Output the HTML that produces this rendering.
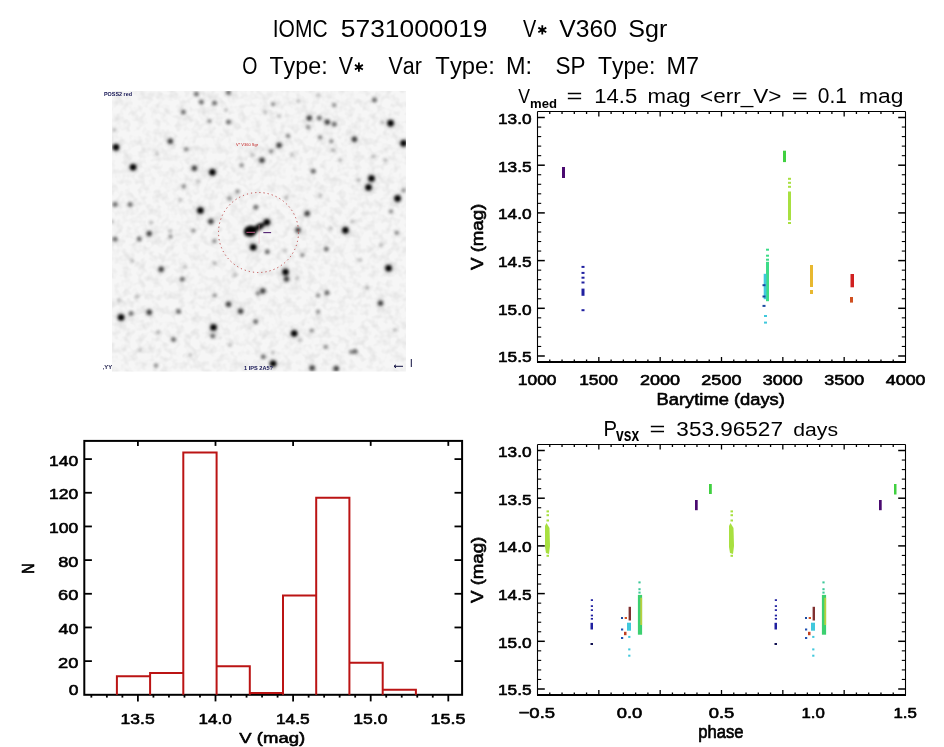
<!DOCTYPE html><html><head><meta charset="utf-8"><style>html,body{margin:0;padding:0;background:#fff;overflow:hidden;}svg{display:block;will-change:transform;}text{font-family:"Liberation Sans",sans-serif;font-kerning:none;white-space:pre;}</style></head><body>
<svg width="944" height="747" viewBox="0 0 944 747">
<rect width="944" height="747" fill="#fff"/>
<text font-size="100" fill="#000" transform="matrix(0.21004 0 0 0.23547 272.76 36.80)">IOMC</text>
<text font-size="100" fill="#000" transform="matrix(0.26379 0 0 0.23547 340.84 36.80)">5731000019</text>
<text font-size="100" fill="#000" transform="matrix(0.19903 0 0 0.23692 522.91 36.70)">V</text>
<path d="M542.30 25.30L542.30 34.50M538.32 27.60L546.28 32.20M546.28 27.60L538.32 32.20" stroke="#000" stroke-width="1.8" fill="none"/>
<text font-size="100" fill="#000" transform="matrix(0.24695 0 0 0.23547 559.29 36.80)">V360</text>
<text font-size="100" fill="#000" transform="matrix(0.25098 0 0 0.23547 628.26 36.80)">Sgr</text>
<text font-size="100" fill="#000" transform="matrix(0.19484 0 0 0.23983 242.28 74.20)">O</text>
<text font-size="100" fill="#000" transform="matrix(0.23291 0 0 0.23983 269.38 74.20)">Type:</text>
<text font-size="100" fill="#000" transform="matrix(0.21422 0 0 0.23983 338.71 74.20)">V</text>
<path d="M358.90 62.60L358.90 71.80M354.92 64.90L362.88 69.50M362.88 64.90L354.92 69.50" stroke="#000" stroke-width="1.8" fill="none"/>
<text font-size="100" fill="#000" transform="matrix(0.21496 0 0 0.23983 388.41 74.20)">Var</text>
<text font-size="100" fill="#000" transform="matrix(0.23793 0 0 0.23983 435.37 74.20)">Type:</text>
<text font-size="100" fill="#000" transform="matrix(0.23467 0 0 0.23983 506.07 74.20)">M:</text>
<text font-size="100" fill="#000" transform="matrix(0.22495 0 0 0.23983 555.38 74.20)">SP</text>
<text font-size="100" fill="#000" transform="matrix(0.22956 0 0 0.23983 597.98 74.20)">Type:</text>
<text font-size="100" fill="#000" transform="matrix(0.23392 0 0 0.23983 666.48 74.20)">M7</text>
<defs><filter id="bl" x="-50%" y="-50%" width="200%" height="200%"><feGaussianBlur stdDeviation="1.55"/></filter><filter id="bh" x="-50%" y="-50%" width="200%" height="200%"><feGaussianBlur stdDeviation="2.6"/></filter><clipPath id="imgclip"><rect x="112" y="91" width="294" height="280.5"/></clipPath></defs>
<filter id="noise" x="0" y="0" width="100%" height="100%"><feTurbulence type="fractalNoise" baseFrequency="0.13" numOctaves="2" seed="7" result="t"/><feColorMatrix type="matrix" values="0 0 0 0 0  0 0 0 0 0  0 0 0 0 0  -0.9 0 0 0 0.55"/><feComposite operator="in" in2="SourceGraphic"/></filter>
<rect x="112" y="91" width="294" height="280.5" fill="#f6f6f6"/>
<rect x="112" y="91" width="294" height="280.5" fill="#000" filter="url(#noise)" opacity="0.16"/>
<g clip-path="url(#imgclip)"><g filter="url(#bh)">
<circle cx="116" cy="147.2" r="4.2" fill="#000" fill-opacity="0.18"/>
<circle cx="170.3" cy="141.2" r="3.5" fill="#000" fill-opacity="0.13"/>
<circle cx="133.1" cy="167.3" r="4.2" fill="#000" fill-opacity="0.18"/>
<circle cx="194.4" cy="168.3" r="3.5" fill="#000" fill-opacity="0.13"/>
<circle cx="212.4" cy="172.3" r="4.2" fill="#000" fill-opacity="0.18"/>
<circle cx="200.4" cy="210.5" r="4.2" fill="#000" fill-opacity="0.18"/>
<circle cx="210.9" cy="221.5" r="3.5" fill="#000" fill-opacity="0.13"/>
<circle cx="149.2" cy="233.6" r="3.5" fill="#000" fill-opacity="0.13"/>
<circle cx="309.2" cy="118.1" r="3.5" fill="#000" fill-opacity="0.13"/>
<circle cx="327.3" cy="122.1" r="3.5" fill="#000" fill-opacity="0.13"/>
<circle cx="390.6" cy="123.2" r="4.2" fill="#000" fill-opacity="0.18"/>
<circle cx="403.6" cy="143.2" r="4.2" fill="#000" fill-opacity="0.18"/>
<circle cx="354.4" cy="139.2" r="3.5" fill="#000" fill-opacity="0.13"/>
<circle cx="279.1" cy="145.2" r="3.5" fill="#000" fill-opacity="0.13"/>
<circle cx="262" cy="160.3" r="3.5" fill="#000" fill-opacity="0.13"/>
<circle cx="371.5" cy="178.4" r="4.2" fill="#000" fill-opacity="0.18"/>
<circle cx="368.5" cy="187.4" r="4.2" fill="#000" fill-opacity="0.18"/>
<circle cx="397.6" cy="198.5" r="4.2" fill="#000" fill-opacity="0.18"/>
<circle cx="307.2" cy="213.5" r="3.5" fill="#000" fill-opacity="0.13"/>
<circle cx="298" cy="230" r="3.5" fill="#000" fill-opacity="0.13"/>
<circle cx="345.4" cy="230.3" r="4.2" fill="#000" fill-opacity="0.18"/>
<circle cx="266.9" cy="222.2" r="4.2" fill="#000" fill-opacity="0.18"/>
<circle cx="253.3" cy="247.3" r="4.2" fill="#000" fill-opacity="0.18"/>
<circle cx="285.5" cy="272" r="4.2" fill="#000" fill-opacity="0.18"/>
<circle cx="286.5" cy="279" r="3.5" fill="#000" fill-opacity="0.13"/>
<circle cx="161.2" cy="269.2" r="3.5" fill="#000" fill-opacity="0.13"/>
<circle cx="121.1" cy="317.4" r="4.2" fill="#000" fill-opacity="0.18"/>
<circle cx="149.2" cy="312.3" r="3.5" fill="#000" fill-opacity="0.13"/>
<circle cx="228.5" cy="304.3" r="3.5" fill="#000" fill-opacity="0.13"/>
<circle cx="240.6" cy="311.3" r="3.5" fill="#000" fill-opacity="0.13"/>
<circle cx="213.5" cy="327.4" r="4.2" fill="#000" fill-opacity="0.18"/>
<circle cx="388.6" cy="268.2" r="4.2" fill="#000" fill-opacity="0.18"/>
<circle cx="262.8" cy="291" r="3.5" fill="#000" fill-opacity="0.13"/>
<circle cx="380.5" cy="303.3" r="3.5" fill="#000" fill-opacity="0.13"/>
<circle cx="294.2" cy="333.4" r="4.2" fill="#000" fill-opacity="0.18"/>
<circle cx="273.1" cy="363.6" r="4.2" fill="#000" fill-opacity="0.18"/>
<circle cx="312.2" cy="368" r="3.5" fill="#000" fill-opacity="0.13"/>
<circle cx="336.3" cy="368.6" r="3.5" fill="#000" fill-opacity="0.13"/>
</g><g filter="url(#bl)">
<circle cx="196.4" cy="94" r="2.5" fill="#000" fill-opacity="0.56"/>
<circle cx="201.4" cy="102" r="2.5" fill="#000" fill-opacity="0.56"/>
<circle cx="214.5" cy="103" r="2.5" fill="#000" fill-opacity="0.56"/>
<circle cx="228.5" cy="92.6" r="2.5" fill="#000" fill-opacity="0.56"/>
<circle cx="183.3" cy="112.1" r="2.5" fill="#000" fill-opacity="0.56"/>
<circle cx="209.4" cy="121.1" r="2.2" fill="#000" fill-opacity="0.45"/>
<circle cx="228.5" cy="122.1" r="2.5" fill="#000" fill-opacity="0.56"/>
<circle cx="116" cy="147.2" r="3.2" fill="#000" fill-opacity="1.0"/>
<circle cx="170.3" cy="141.2" r="2.7" fill="#000" fill-opacity="0.72"/>
<circle cx="186.3" cy="149.3" r="2.2" fill="#000" fill-opacity="0.45"/>
<circle cx="133.1" cy="167.3" r="3.2" fill="#000" fill-opacity="1.0"/>
<circle cx="194.4" cy="168.3" r="2.7" fill="#000" fill-opacity="0.72"/>
<circle cx="212.4" cy="172.3" r="3.2" fill="#000" fill-opacity="1.0"/>
<circle cx="198.4" cy="181.4" r="2.1" fill="#000" fill-opacity="0.25"/>
<circle cx="241.6" cy="165.3" r="2.2" fill="#000" fill-opacity="0.45"/>
<circle cx="237.6" cy="191.4" r="2.2" fill="#000" fill-opacity="0.45"/>
<circle cx="229.5" cy="198.5" r="2.2" fill="#000" fill-opacity="0.45"/>
<circle cx="115" cy="204.5" r="2.5" fill="#000" fill-opacity="0.56"/>
<circle cx="130.1" cy="204.5" r="2.5" fill="#000" fill-opacity="0.56"/>
<circle cx="200.4" cy="210.5" r="3.2" fill="#000" fill-opacity="1.0"/>
<circle cx="210.9" cy="221.5" r="2.7" fill="#000" fill-opacity="0.72"/>
<circle cx="193.4" cy="230.6" r="2.2" fill="#000" fill-opacity="0.45"/>
<circle cx="149.2" cy="233.6" r="2.7" fill="#000" fill-opacity="0.72"/>
<circle cx="255.8" cy="207.3" r="2.5" fill="#000" fill-opacity="0.56"/>
<circle cx="112" cy="221.5" r="2.1" fill="#000" fill-opacity="0.25"/>
<circle cx="318.3" cy="95" r="2.1" fill="#000" fill-opacity="0.25"/>
<circle cx="374.5" cy="100.1" r="2.5" fill="#000" fill-opacity="0.56"/>
<circle cx="273.1" cy="104.1" r="2.2" fill="#000" fill-opacity="0.45"/>
<circle cx="298.2" cy="101.1" r="2.1" fill="#000" fill-opacity="0.25"/>
<circle cx="334.3" cy="105.1" r="2.2" fill="#000" fill-opacity="0.45"/>
<circle cx="309.2" cy="118.1" r="2.7" fill="#000" fill-opacity="0.72"/>
<circle cx="319.3" cy="118.1" r="2.5" fill="#000" fill-opacity="0.56"/>
<circle cx="327.3" cy="122.1" r="2.7" fill="#000" fill-opacity="0.72"/>
<circle cx="334.3" cy="124.2" r="2.5" fill="#000" fill-opacity="0.56"/>
<circle cx="308.2" cy="127.2" r="2.2" fill="#000" fill-opacity="0.45"/>
<circle cx="279.1" cy="116.1" r="2.1" fill="#000" fill-opacity="0.25"/>
<circle cx="390.6" cy="123.2" r="3.2" fill="#000" fill-opacity="1.0"/>
<circle cx="403.6" cy="143.2" r="3.2" fill="#000" fill-opacity="1.0"/>
<circle cx="354.4" cy="139.2" r="2.7" fill="#000" fill-opacity="0.72"/>
<circle cx="320.3" cy="137.2" r="2.2" fill="#000" fill-opacity="0.45"/>
<circle cx="331.3" cy="141.2" r="2.2" fill="#000" fill-opacity="0.45"/>
<circle cx="279.1" cy="145.2" r="2.7" fill="#000" fill-opacity="0.72"/>
<circle cx="271.1" cy="151.3" r="2.2" fill="#000" fill-opacity="0.45"/>
<circle cx="262" cy="160.3" r="2.7" fill="#000" fill-opacity="0.72"/>
<circle cx="333.3" cy="150.3" r="2.1" fill="#000" fill-opacity="0.25"/>
<circle cx="313.3" cy="171.3" r="2.5" fill="#000" fill-opacity="0.56"/>
<circle cx="373.5" cy="156.3" r="2.1" fill="#000" fill-opacity="0.25"/>
<circle cx="371.5" cy="178.4" r="3.2" fill="#000" fill-opacity="1.0"/>
<circle cx="368.5" cy="187.4" r="3.2" fill="#000" fill-opacity="1.0"/>
<circle cx="358.4" cy="180.4" r="2.1" fill="#000" fill-opacity="0.25"/>
<circle cx="397.6" cy="198.5" r="3.2" fill="#000" fill-opacity="1.0"/>
<circle cx="403.6" cy="190.4" r="2.2" fill="#000" fill-opacity="0.45"/>
<circle cx="307.2" cy="213.5" r="2.7" fill="#000" fill-opacity="0.72"/>
<circle cx="320.3" cy="195.4" r="2.1" fill="#000" fill-opacity="0.25"/>
<circle cx="298" cy="230" r="2.7" fill="#000" fill-opacity="0.72"/>
<circle cx="345.4" cy="230.3" r="3.2" fill="#000" fill-opacity="1.0"/>
<circle cx="352.4" cy="221.5" r="2.1" fill="#000" fill-opacity="0.25"/>
<circle cx="391" cy="211.4" r="2.2" fill="#000" fill-opacity="0.45"/>
<circle cx="286.1" cy="197.5" r="2.1" fill="#000" fill-opacity="0.25"/>
<circle cx="266.9" cy="222.2" r="3.2" fill="#000" fill-opacity="1.0"/>
<circle cx="253.3" cy="247.3" r="3.2" fill="#000" fill-opacity="1.0"/>
<circle cx="267.3" cy="251.8" r="2.5" fill="#000" fill-opacity="0.56"/>
<circle cx="285" cy="250.5" r="2.1" fill="#000" fill-opacity="0.25"/>
<circle cx="214.5" cy="241" r="2.2" fill="#000" fill-opacity="0.45"/>
<circle cx="285.5" cy="272" r="3.2" fill="#000" fill-opacity="1.0"/>
<circle cx="286.5" cy="279" r="2.7" fill="#000" fill-opacity="0.72"/>
<circle cx="115.1" cy="239.1" r="2.5" fill="#000" fill-opacity="0.56"/>
<circle cx="139.2" cy="239.1" r="2.5" fill="#000" fill-opacity="0.56"/>
<circle cx="170.3" cy="231" r="2.1" fill="#000" fill-opacity="0.25"/>
<circle cx="132.1" cy="261.1" r="2.1" fill="#000" fill-opacity="0.25"/>
<circle cx="161.2" cy="269.2" r="2.7" fill="#000" fill-opacity="0.72"/>
<circle cx="182.3" cy="279.2" r="2.5" fill="#000" fill-opacity="0.56"/>
<circle cx="214.5" cy="263.2" r="2.1" fill="#000" fill-opacity="0.25"/>
<circle cx="119.1" cy="300.3" r="2.1" fill="#000" fill-opacity="0.25"/>
<circle cx="121.1" cy="317.4" r="3.2" fill="#000" fill-opacity="1.0"/>
<circle cx="131.1" cy="313.4" r="2.5" fill="#000" fill-opacity="0.56"/>
<circle cx="149.2" cy="312.3" r="2.7" fill="#000" fill-opacity="0.72"/>
<circle cx="178.5" cy="311.5" r="2.5" fill="#000" fill-opacity="0.56"/>
<circle cx="228.5" cy="304.3" r="2.7" fill="#000" fill-opacity="0.72"/>
<circle cx="240.6" cy="311.3" r="2.7" fill="#000" fill-opacity="0.72"/>
<circle cx="214.5" cy="295.3" r="2.1" fill="#000" fill-opacity="0.25"/>
<circle cx="213.5" cy="327.4" r="3.2" fill="#000" fill-opacity="1.0"/>
<circle cx="212.8" cy="336" r="2.5" fill="#000" fill-opacity="0.56"/>
<circle cx="158.2" cy="332.4" r="2.1" fill="#000" fill-opacity="0.25"/>
<circle cx="173.5" cy="339.4" r="2.5" fill="#000" fill-opacity="0.56"/>
<circle cx="156" cy="365.5" r="2.2" fill="#000" fill-opacity="0.45"/>
<circle cx="255.6" cy="321.6" r="2.5" fill="#000" fill-opacity="0.56"/>
<circle cx="396.7" cy="232.8" r="2.2" fill="#000" fill-opacity="0.45"/>
<circle cx="326.3" cy="249.1" r="2.5" fill="#000" fill-opacity="0.56"/>
<circle cx="302.2" cy="255.1" r="2.2" fill="#000" fill-opacity="0.45"/>
<circle cx="388.6" cy="268.2" r="3.2" fill="#000" fill-opacity="1.0"/>
<circle cx="297.2" cy="278.2" r="2.1" fill="#000" fill-opacity="0.25"/>
<circle cx="262.8" cy="291" r="2.7" fill="#000" fill-opacity="0.72"/>
<circle cx="257.8" cy="293.5" r="2.2" fill="#000" fill-opacity="0.45"/>
<circle cx="326.9" cy="292.8" r="2.5" fill="#000" fill-opacity="0.56"/>
<circle cx="318.1" cy="295.4" r="2.2" fill="#000" fill-opacity="0.45"/>
<circle cx="380.5" cy="303.3" r="2.7" fill="#000" fill-opacity="0.72"/>
<circle cx="318.1" cy="311.7" r="2.2" fill="#000" fill-opacity="0.45"/>
<circle cx="294.2" cy="333.4" r="3.2" fill="#000" fill-opacity="1.0"/>
<circle cx="311.8" cy="330.6" r="2.2" fill="#000" fill-opacity="0.45"/>
<circle cx="351" cy="352" r="2.2" fill="#000" fill-opacity="0.45"/>
<circle cx="355" cy="351.6" r="2.5" fill="#000" fill-opacity="0.56"/>
<circle cx="325.6" cy="346.9" r="2.2" fill="#000" fill-opacity="0.45"/>
<circle cx="263.3" cy="356.8" r="2.5" fill="#000" fill-opacity="0.56"/>
<circle cx="273.1" cy="363.6" r="3.2" fill="#000" fill-opacity="1.0"/>
<circle cx="312.2" cy="368" r="2.7" fill="#000" fill-opacity="0.72"/>
<circle cx="336.3" cy="368.6" r="2.7" fill="#000" fill-opacity="0.72"/>
<circle cx="288" cy="135.7" r="2.2" fill="#000" fill-opacity="0.45"/>
<circle cx="252.8" cy="155.2" r="2.1" fill="#000" fill-opacity="0.25"/>
<circle cx="291.8" cy="154.5" r="2.1" fill="#000" fill-opacity="0.25"/>
<circle cx="265.3" cy="112.4" r="2.1" fill="#000" fill-opacity="0.25"/>
<circle cx="382.2" cy="122.4" r="2.1" fill="#000" fill-opacity="0.25"/>
<circle cx="170.5" cy="236.6" r="2.2" fill="#000" fill-opacity="0.45"/>
<circle cx="185" cy="266.8" r="2.1" fill="#000" fill-opacity="0.25"/>
<circle cx="151" cy="222.7" r="2.1" fill="#000" fill-opacity="0.25"/>
<circle cx="183.7" cy="186.3" r="2.2" fill="#000" fill-opacity="0.45"/>
<circle cx="137.2" cy="296.6" r="2.1" fill="#000" fill-opacity="0.25"/>
<circle cx="330.6" cy="228.4" r="2.1" fill="#000" fill-opacity="0.25"/>
<circle cx="381" cy="245.4" r="2.1" fill="#000" fill-opacity="0.25"/>
<circle cx="272.9" cy="352.6" r="2.1" fill="#000" fill-opacity="0.25"/>
<circle cx="367.1" cy="287.8" r="2.1" fill="#000" fill-opacity="0.25"/>
<circle cx="215" cy="295.4" r="2.1" fill="#000" fill-opacity="0.25"/>
<circle cx="114.5" cy="130" r="2.1" fill="#000" fill-opacity="0.25"/>
<circle cx="157" cy="154" r="2.1" fill="#000" fill-opacity="0.25"/>
<circle cx="226" cy="110" r="2.1" fill="#000" fill-opacity="0.25"/>
<circle cx="340" cy="160" r="2.1" fill="#000" fill-opacity="0.25"/>
<circle cx="360" cy="260" r="2.1" fill="#000" fill-opacity="0.25"/>
<circle cx="300" cy="340" r="2.1" fill="#000" fill-opacity="0.25"/>
<circle cx="140" cy="350" r="2.1" fill="#000" fill-opacity="0.25"/>
<circle cx="190" cy="355" r="2.1" fill="#000" fill-opacity="0.25"/>
<circle cx="230" cy="345" r="2.1" fill="#000" fill-opacity="0.25"/>
<circle cx="395" cy="330" r="2.1" fill="#000" fill-opacity="0.25"/>
<circle cx="385" cy="160" r="2.1" fill="#000" fill-opacity="0.25"/>
<circle cx="235" cy="275" r="2.1" fill="#000" fill-opacity="0.25"/>
<circle cx="180" cy="200" r="2.1" fill="#000" fill-opacity="0.25"/>
<ellipse cx="250.3" cy="231.2" rx="6.6" ry="5.6" transform="rotate(-12 250.3 231.2)" fill="#000"/>
<ellipse cx="259" cy="226.8" rx="6.5" ry="3.2" transform="rotate(-28 259 226.8)" fill="#000" fill-opacity="0.9"/>
</g></g>
<circle cx="258.5" cy="232.5" r="40" fill="none" stroke="#b83838" stroke-width="0.9" stroke-dasharray="1.2 3"/>
<line x1="246.4" y1="232.3" x2="254.9" y2="232.3" stroke="#d06090" stroke-width="0.9"/>
<line x1="259.1" y1="225" x2="259.1" y2="243.7" stroke="#f0a0b0" stroke-width="0.6" opacity="0.6"/>
<line x1="263.3" y1="232.6" x2="271.1" y2="232.6" stroke="#502070" stroke-width="1.1"/>
<text x="104" y="96.3" font-size="5" fill="#101050" font-weight="bold" textLength="28" lengthAdjust="spacingAndGlyphs">POSS2 red</text>
<text x="236" y="146" font-size="4" fill="#c02020">V* V360 Sgr</text>
<text x="102.7" y="369" font-size="5" fill="#101040" font-weight="bold" textLength="9.5" lengthAdjust="spacingAndGlyphs">,YY</text>
<text x="244" y="370.3" font-size="4.5" fill="#101050" font-weight="bold" textLength="29" lengthAdjust="spacingAndGlyphs">1 IPS 2A5?</text>
<line x1="394" y1="366.3" x2="403" y2="366.3" stroke="#101040" stroke-width="1"/>
<path d="M394 366.3 l2 -1.5 M394 366.3 l2 1.5" stroke="#101040" stroke-width="1" fill="none"/>
<line x1="411.3" y1="359" x2="411.3" y2="367" stroke="#101040" stroke-width="1"/>
<line x1="537.50" y1="111.50" x2="905.50" y2="111.50" stroke="#000" stroke-width="1.1"/>
<line x1="537.50" y1="111.50" x2="537.50" y2="362.00" stroke="#000" stroke-width="1.1"/>
<line x1="905.50" y1="111.50" x2="905.50" y2="362.00" stroke="#000" stroke-width="1.1"/>
<line x1="537.00" y1="362.00" x2="906.00" y2="362.00" stroke="#000" stroke-width="1.9"/>
<line x1="537.50" y1="117.50" x2="544.80" y2="117.50" stroke="#000" stroke-width="1.5"/>
<line x1="905.50" y1="117.50" x2="898.20" y2="117.50" stroke="#000" stroke-width="1.5"/>
<line x1="537.50" y1="127.04" x2="541.20" y2="127.04" stroke="#000" stroke-width="1.1"/>
<line x1="905.50" y1="127.04" x2="901.80" y2="127.04" stroke="#000" stroke-width="1.1"/>
<line x1="537.50" y1="136.58" x2="541.20" y2="136.58" stroke="#000" stroke-width="1.1"/>
<line x1="905.50" y1="136.58" x2="901.80" y2="136.58" stroke="#000" stroke-width="1.1"/>
<line x1="537.50" y1="146.12" x2="541.20" y2="146.12" stroke="#000" stroke-width="1.1"/>
<line x1="905.50" y1="146.12" x2="901.80" y2="146.12" stroke="#000" stroke-width="1.1"/>
<line x1="537.50" y1="155.66" x2="541.20" y2="155.66" stroke="#000" stroke-width="1.1"/>
<line x1="905.50" y1="155.66" x2="901.80" y2="155.66" stroke="#000" stroke-width="1.1"/>
<line x1="537.50" y1="165.20" x2="544.80" y2="165.20" stroke="#000" stroke-width="1.5"/>
<line x1="905.50" y1="165.20" x2="898.20" y2="165.20" stroke="#000" stroke-width="1.5"/>
<line x1="537.50" y1="174.74" x2="541.20" y2="174.74" stroke="#000" stroke-width="1.1"/>
<line x1="905.50" y1="174.74" x2="901.80" y2="174.74" stroke="#000" stroke-width="1.1"/>
<line x1="537.50" y1="184.28" x2="541.20" y2="184.28" stroke="#000" stroke-width="1.1"/>
<line x1="905.50" y1="184.28" x2="901.80" y2="184.28" stroke="#000" stroke-width="1.1"/>
<line x1="537.50" y1="193.82" x2="541.20" y2="193.82" stroke="#000" stroke-width="1.1"/>
<line x1="905.50" y1="193.82" x2="901.80" y2="193.82" stroke="#000" stroke-width="1.1"/>
<line x1="537.50" y1="203.36" x2="541.20" y2="203.36" stroke="#000" stroke-width="1.1"/>
<line x1="905.50" y1="203.36" x2="901.80" y2="203.36" stroke="#000" stroke-width="1.1"/>
<line x1="537.50" y1="212.90" x2="544.80" y2="212.90" stroke="#000" stroke-width="1.5"/>
<line x1="905.50" y1="212.90" x2="898.20" y2="212.90" stroke="#000" stroke-width="1.5"/>
<line x1="537.50" y1="222.44" x2="541.20" y2="222.44" stroke="#000" stroke-width="1.1"/>
<line x1="905.50" y1="222.44" x2="901.80" y2="222.44" stroke="#000" stroke-width="1.1"/>
<line x1="537.50" y1="231.98" x2="541.20" y2="231.98" stroke="#000" stroke-width="1.1"/>
<line x1="905.50" y1="231.98" x2="901.80" y2="231.98" stroke="#000" stroke-width="1.1"/>
<line x1="537.50" y1="241.52" x2="541.20" y2="241.52" stroke="#000" stroke-width="1.1"/>
<line x1="905.50" y1="241.52" x2="901.80" y2="241.52" stroke="#000" stroke-width="1.1"/>
<line x1="537.50" y1="251.06" x2="541.20" y2="251.06" stroke="#000" stroke-width="1.1"/>
<line x1="905.50" y1="251.06" x2="901.80" y2="251.06" stroke="#000" stroke-width="1.1"/>
<line x1="537.50" y1="260.60" x2="544.80" y2="260.60" stroke="#000" stroke-width="1.5"/>
<line x1="905.50" y1="260.60" x2="898.20" y2="260.60" stroke="#000" stroke-width="1.5"/>
<line x1="537.50" y1="270.14" x2="541.20" y2="270.14" stroke="#000" stroke-width="1.1"/>
<line x1="905.50" y1="270.14" x2="901.80" y2="270.14" stroke="#000" stroke-width="1.1"/>
<line x1="537.50" y1="279.68" x2="541.20" y2="279.68" stroke="#000" stroke-width="1.1"/>
<line x1="905.50" y1="279.68" x2="901.80" y2="279.68" stroke="#000" stroke-width="1.1"/>
<line x1="537.50" y1="289.22" x2="541.20" y2="289.22" stroke="#000" stroke-width="1.1"/>
<line x1="905.50" y1="289.22" x2="901.80" y2="289.22" stroke="#000" stroke-width="1.1"/>
<line x1="537.50" y1="298.76" x2="541.20" y2="298.76" stroke="#000" stroke-width="1.1"/>
<line x1="905.50" y1="298.76" x2="901.80" y2="298.76" stroke="#000" stroke-width="1.1"/>
<line x1="537.50" y1="308.30" x2="544.80" y2="308.30" stroke="#000" stroke-width="1.5"/>
<line x1="905.50" y1="308.30" x2="898.20" y2="308.30" stroke="#000" stroke-width="1.5"/>
<line x1="537.50" y1="317.84" x2="541.20" y2="317.84" stroke="#000" stroke-width="1.1"/>
<line x1="905.50" y1="317.84" x2="901.80" y2="317.84" stroke="#000" stroke-width="1.1"/>
<line x1="537.50" y1="327.38" x2="541.20" y2="327.38" stroke="#000" stroke-width="1.1"/>
<line x1="905.50" y1="327.38" x2="901.80" y2="327.38" stroke="#000" stroke-width="1.1"/>
<line x1="537.50" y1="336.92" x2="541.20" y2="336.92" stroke="#000" stroke-width="1.1"/>
<line x1="905.50" y1="336.92" x2="901.80" y2="336.92" stroke="#000" stroke-width="1.1"/>
<line x1="537.50" y1="346.46" x2="541.20" y2="346.46" stroke="#000" stroke-width="1.1"/>
<line x1="905.50" y1="346.46" x2="901.80" y2="346.46" stroke="#000" stroke-width="1.1"/>
<line x1="537.50" y1="356.00" x2="544.80" y2="356.00" stroke="#000" stroke-width="1.5"/>
<line x1="905.50" y1="356.00" x2="898.20" y2="356.00" stroke="#000" stroke-width="1.5"/>
<line x1="549.77" y1="362.00" x2="549.77" y2="359.50" stroke="#000" stroke-width="1.3"/>
<line x1="549.77" y1="111.50" x2="549.77" y2="114.00" stroke="#000" stroke-width="1.3"/>
<line x1="562.03" y1="362.00" x2="562.03" y2="359.50" stroke="#000" stroke-width="1.3"/>
<line x1="562.03" y1="111.50" x2="562.03" y2="114.00" stroke="#000" stroke-width="1.3"/>
<line x1="574.30" y1="362.00" x2="574.30" y2="359.50" stroke="#000" stroke-width="1.3"/>
<line x1="574.30" y1="111.50" x2="574.30" y2="114.00" stroke="#000" stroke-width="1.3"/>
<line x1="586.57" y1="362.00" x2="586.57" y2="359.50" stroke="#000" stroke-width="1.3"/>
<line x1="586.57" y1="111.50" x2="586.57" y2="114.00" stroke="#000" stroke-width="1.3"/>
<line x1="598.83" y1="362.00" x2="598.83" y2="357.00" stroke="#000" stroke-width="1.3"/>
<line x1="598.83" y1="111.50" x2="598.83" y2="116.50" stroke="#000" stroke-width="1.3"/>
<line x1="611.10" y1="362.00" x2="611.10" y2="359.50" stroke="#000" stroke-width="1.3"/>
<line x1="611.10" y1="111.50" x2="611.10" y2="114.00" stroke="#000" stroke-width="1.3"/>
<line x1="623.37" y1="362.00" x2="623.37" y2="359.50" stroke="#000" stroke-width="1.3"/>
<line x1="623.37" y1="111.50" x2="623.37" y2="114.00" stroke="#000" stroke-width="1.3"/>
<line x1="635.63" y1="362.00" x2="635.63" y2="359.50" stroke="#000" stroke-width="1.3"/>
<line x1="635.63" y1="111.50" x2="635.63" y2="114.00" stroke="#000" stroke-width="1.3"/>
<line x1="647.90" y1="362.00" x2="647.90" y2="359.50" stroke="#000" stroke-width="1.3"/>
<line x1="647.90" y1="111.50" x2="647.90" y2="114.00" stroke="#000" stroke-width="1.3"/>
<line x1="660.17" y1="362.00" x2="660.17" y2="357.00" stroke="#000" stroke-width="1.3"/>
<line x1="660.17" y1="111.50" x2="660.17" y2="116.50" stroke="#000" stroke-width="1.3"/>
<line x1="672.43" y1="362.00" x2="672.43" y2="359.50" stroke="#000" stroke-width="1.3"/>
<line x1="672.43" y1="111.50" x2="672.43" y2="114.00" stroke="#000" stroke-width="1.3"/>
<line x1="684.70" y1="362.00" x2="684.70" y2="359.50" stroke="#000" stroke-width="1.3"/>
<line x1="684.70" y1="111.50" x2="684.70" y2="114.00" stroke="#000" stroke-width="1.3"/>
<line x1="696.97" y1="362.00" x2="696.97" y2="359.50" stroke="#000" stroke-width="1.3"/>
<line x1="696.97" y1="111.50" x2="696.97" y2="114.00" stroke="#000" stroke-width="1.3"/>
<line x1="709.23" y1="362.00" x2="709.23" y2="359.50" stroke="#000" stroke-width="1.3"/>
<line x1="709.23" y1="111.50" x2="709.23" y2="114.00" stroke="#000" stroke-width="1.3"/>
<line x1="721.50" y1="362.00" x2="721.50" y2="357.00" stroke="#000" stroke-width="1.3"/>
<line x1="721.50" y1="111.50" x2="721.50" y2="116.50" stroke="#000" stroke-width="1.3"/>
<line x1="733.77" y1="362.00" x2="733.77" y2="359.50" stroke="#000" stroke-width="1.3"/>
<line x1="733.77" y1="111.50" x2="733.77" y2="114.00" stroke="#000" stroke-width="1.3"/>
<line x1="746.03" y1="362.00" x2="746.03" y2="359.50" stroke="#000" stroke-width="1.3"/>
<line x1="746.03" y1="111.50" x2="746.03" y2="114.00" stroke="#000" stroke-width="1.3"/>
<line x1="758.30" y1="362.00" x2="758.30" y2="359.50" stroke="#000" stroke-width="1.3"/>
<line x1="758.30" y1="111.50" x2="758.30" y2="114.00" stroke="#000" stroke-width="1.3"/>
<line x1="770.57" y1="362.00" x2="770.57" y2="359.50" stroke="#000" stroke-width="1.3"/>
<line x1="770.57" y1="111.50" x2="770.57" y2="114.00" stroke="#000" stroke-width="1.3"/>
<line x1="782.83" y1="362.00" x2="782.83" y2="357.00" stroke="#000" stroke-width="1.3"/>
<line x1="782.83" y1="111.50" x2="782.83" y2="116.50" stroke="#000" stroke-width="1.3"/>
<line x1="795.10" y1="362.00" x2="795.10" y2="359.50" stroke="#000" stroke-width="1.3"/>
<line x1="795.10" y1="111.50" x2="795.10" y2="114.00" stroke="#000" stroke-width="1.3"/>
<line x1="807.37" y1="362.00" x2="807.37" y2="359.50" stroke="#000" stroke-width="1.3"/>
<line x1="807.37" y1="111.50" x2="807.37" y2="114.00" stroke="#000" stroke-width="1.3"/>
<line x1="819.63" y1="362.00" x2="819.63" y2="359.50" stroke="#000" stroke-width="1.3"/>
<line x1="819.63" y1="111.50" x2="819.63" y2="114.00" stroke="#000" stroke-width="1.3"/>
<line x1="831.90" y1="362.00" x2="831.90" y2="359.50" stroke="#000" stroke-width="1.3"/>
<line x1="831.90" y1="111.50" x2="831.90" y2="114.00" stroke="#000" stroke-width="1.3"/>
<line x1="844.17" y1="362.00" x2="844.17" y2="357.00" stroke="#000" stroke-width="1.3"/>
<line x1="844.17" y1="111.50" x2="844.17" y2="116.50" stroke="#000" stroke-width="1.3"/>
<line x1="856.43" y1="362.00" x2="856.43" y2="359.50" stroke="#000" stroke-width="1.3"/>
<line x1="856.43" y1="111.50" x2="856.43" y2="114.00" stroke="#000" stroke-width="1.3"/>
<line x1="868.70" y1="362.00" x2="868.70" y2="359.50" stroke="#000" stroke-width="1.3"/>
<line x1="868.70" y1="111.50" x2="868.70" y2="114.00" stroke="#000" stroke-width="1.3"/>
<line x1="880.97" y1="362.00" x2="880.97" y2="359.50" stroke="#000" stroke-width="1.3"/>
<line x1="880.97" y1="111.50" x2="880.97" y2="114.00" stroke="#000" stroke-width="1.3"/>
<line x1="893.23" y1="362.00" x2="893.23" y2="359.50" stroke="#000" stroke-width="1.3"/>
<line x1="893.23" y1="111.50" x2="893.23" y2="114.00" stroke="#000" stroke-width="1.3"/>
<text font-size="100" stroke="#000" stroke-width="4.00" stroke-linejoin="round" fill="#000" transform="matrix(0.17231 0 0 0.15335 498.01 123.88)">13.0</text>
<text font-size="100" stroke="#000" stroke-width="4.00" stroke-linejoin="round" fill="#000" transform="matrix(0.17258 0 0 0.15335 498.01 171.57)">13.5</text>
<text font-size="100" stroke="#000" stroke-width="4.00" stroke-linejoin="round" fill="#000" transform="matrix(0.17231 0 0 0.15335 498.01 219.28)">14.0</text>
<text font-size="100" stroke="#000" stroke-width="4.00" stroke-linejoin="round" fill="#000" transform="matrix(0.17258 0 0 0.15335 498.01 266.98)">14.5</text>
<text font-size="100" stroke="#000" stroke-width="4.00" stroke-linejoin="round" fill="#000" transform="matrix(0.17231 0 0 0.15335 498.01 314.68)">15.0</text>
<text font-size="100" stroke="#000" stroke-width="4.00" stroke-linejoin="round" fill="#000" transform="matrix(0.17258 0 0 0.15335 498.01 362.38)">15.5</text>
<text font-size="100" stroke="#000" stroke-width="4.09" stroke-linejoin="round" fill="#000" transform="matrix(0.17422 0 0 0.14462 517.80 384.57)">1000</text>
<text font-size="100" stroke="#000" stroke-width="4.09" stroke-linejoin="round" fill="#000" transform="matrix(0.17422 0 0 0.14462 579.13 384.57)">1500</text>
<text font-size="100" stroke="#000" stroke-width="4.02" stroke-linejoin="round" fill="#000" transform="matrix(0.18054 0 0 0.14462 639.98 384.57)">2000</text>
<text font-size="100" stroke="#000" stroke-width="4.02" stroke-linejoin="round" fill="#000" transform="matrix(0.18054 0 0 0.14462 701.32 384.57)">2500</text>
<text font-size="100" stroke="#000" stroke-width="4.03" stroke-linejoin="round" fill="#000" transform="matrix(0.17951 0 0 0.14462 762.87 384.57)">3000</text>
<text font-size="100" stroke="#000" stroke-width="4.03" stroke-linejoin="round" fill="#000" transform="matrix(0.17951 0 0 0.14462 824.21 384.57)">3500</text>
<text font-size="100" stroke="#000" stroke-width="4.05" stroke-linejoin="round" fill="#000" transform="matrix(0.17826 0 0 0.14462 885.82 384.57)">4000</text>
<text font-size="100" stroke="#000" stroke-width="3.81" stroke-linejoin="round" fill="#000" transform="matrix(0.18323 0 0 0.15916 656.62 405.28)">Barytime (days)</text>
<g transform="translate(483.10 270.20) rotate(-90)"><text font-size="100" stroke="#000" stroke-width="3.69" stroke-linejoin="round" fill="#000" transform="matrix(0.18640 0 0 0.16643 0.24 -0.33)">V (mag)</text></g>
<text font-size="100" fill="#000" transform="matrix(0.17624 0 0 0.20785 518.32 102.60)">V</text>
<text font-size="100" font-weight="bold" fill="#000" transform="matrix(0.13096 0 0 0.12682 530.04 107.80)">med</text>
<text font-size="100" fill="#000" transform="matrix(0.27375 0 0 0.20785 566.56 102.60)">=</text>
<text font-size="100" fill="#000" transform="matrix(0.22044 0 0 0.20785 594.32 102.70)">14.5</text>
<text font-size="100" fill="#000" transform="matrix(0.22211 0 0 0.19874 647.43 102.80)">mag</text>
<text font-size="100" fill="#000" transform="matrix(0.22531 0 0 0.20785 699.99 102.70)">&lt;err_V&gt;</text>
<text font-size="100" fill="#000" transform="matrix(0.27375 0 0 0.20785 791.86 102.60)">=</text>
<text font-size="100" fill="#000" transform="matrix(0.20964 0 0 0.21221 817.78 103.00)">0.1</text>
<text font-size="100" fill="#000" transform="matrix(0.22817 0 0 0.19306 858.98 103.00)">mag</text>
<line x1="537.50" y1="444.50" x2="905.50" y2="444.50" stroke="#000" stroke-width="1.1"/>
<line x1="537.50" y1="444.50" x2="537.50" y2="695.00" stroke="#000" stroke-width="1.1"/>
<line x1="905.50" y1="444.50" x2="905.50" y2="695.00" stroke="#000" stroke-width="1.1"/>
<line x1="537.00" y1="695.00" x2="906.00" y2="695.00" stroke="#000" stroke-width="1.9"/>
<line x1="537.50" y1="450.50" x2="544.80" y2="450.50" stroke="#000" stroke-width="1.5"/>
<line x1="905.50" y1="450.50" x2="898.20" y2="450.50" stroke="#000" stroke-width="1.5"/>
<line x1="537.50" y1="460.04" x2="541.20" y2="460.04" stroke="#000" stroke-width="1.1"/>
<line x1="905.50" y1="460.04" x2="901.80" y2="460.04" stroke="#000" stroke-width="1.1"/>
<line x1="537.50" y1="469.58" x2="541.20" y2="469.58" stroke="#000" stroke-width="1.1"/>
<line x1="905.50" y1="469.58" x2="901.80" y2="469.58" stroke="#000" stroke-width="1.1"/>
<line x1="537.50" y1="479.12" x2="541.20" y2="479.12" stroke="#000" stroke-width="1.1"/>
<line x1="905.50" y1="479.12" x2="901.80" y2="479.12" stroke="#000" stroke-width="1.1"/>
<line x1="537.50" y1="488.66" x2="541.20" y2="488.66" stroke="#000" stroke-width="1.1"/>
<line x1="905.50" y1="488.66" x2="901.80" y2="488.66" stroke="#000" stroke-width="1.1"/>
<line x1="537.50" y1="498.20" x2="544.80" y2="498.20" stroke="#000" stroke-width="1.5"/>
<line x1="905.50" y1="498.20" x2="898.20" y2="498.20" stroke="#000" stroke-width="1.5"/>
<line x1="537.50" y1="507.74" x2="541.20" y2="507.74" stroke="#000" stroke-width="1.1"/>
<line x1="905.50" y1="507.74" x2="901.80" y2="507.74" stroke="#000" stroke-width="1.1"/>
<line x1="537.50" y1="517.28" x2="541.20" y2="517.28" stroke="#000" stroke-width="1.1"/>
<line x1="905.50" y1="517.28" x2="901.80" y2="517.28" stroke="#000" stroke-width="1.1"/>
<line x1="537.50" y1="526.82" x2="541.20" y2="526.82" stroke="#000" stroke-width="1.1"/>
<line x1="905.50" y1="526.82" x2="901.80" y2="526.82" stroke="#000" stroke-width="1.1"/>
<line x1="537.50" y1="536.36" x2="541.20" y2="536.36" stroke="#000" stroke-width="1.1"/>
<line x1="905.50" y1="536.36" x2="901.80" y2="536.36" stroke="#000" stroke-width="1.1"/>
<line x1="537.50" y1="545.90" x2="544.80" y2="545.90" stroke="#000" stroke-width="1.5"/>
<line x1="905.50" y1="545.90" x2="898.20" y2="545.90" stroke="#000" stroke-width="1.5"/>
<line x1="537.50" y1="555.44" x2="541.20" y2="555.44" stroke="#000" stroke-width="1.1"/>
<line x1="905.50" y1="555.44" x2="901.80" y2="555.44" stroke="#000" stroke-width="1.1"/>
<line x1="537.50" y1="564.98" x2="541.20" y2="564.98" stroke="#000" stroke-width="1.1"/>
<line x1="905.50" y1="564.98" x2="901.80" y2="564.98" stroke="#000" stroke-width="1.1"/>
<line x1="537.50" y1="574.52" x2="541.20" y2="574.52" stroke="#000" stroke-width="1.1"/>
<line x1="905.50" y1="574.52" x2="901.80" y2="574.52" stroke="#000" stroke-width="1.1"/>
<line x1="537.50" y1="584.06" x2="541.20" y2="584.06" stroke="#000" stroke-width="1.1"/>
<line x1="905.50" y1="584.06" x2="901.80" y2="584.06" stroke="#000" stroke-width="1.1"/>
<line x1="537.50" y1="593.60" x2="544.80" y2="593.60" stroke="#000" stroke-width="1.5"/>
<line x1="905.50" y1="593.60" x2="898.20" y2="593.60" stroke="#000" stroke-width="1.5"/>
<line x1="537.50" y1="603.14" x2="541.20" y2="603.14" stroke="#000" stroke-width="1.1"/>
<line x1="905.50" y1="603.14" x2="901.80" y2="603.14" stroke="#000" stroke-width="1.1"/>
<line x1="537.50" y1="612.68" x2="541.20" y2="612.68" stroke="#000" stroke-width="1.1"/>
<line x1="905.50" y1="612.68" x2="901.80" y2="612.68" stroke="#000" stroke-width="1.1"/>
<line x1="537.50" y1="622.22" x2="541.20" y2="622.22" stroke="#000" stroke-width="1.1"/>
<line x1="905.50" y1="622.22" x2="901.80" y2="622.22" stroke="#000" stroke-width="1.1"/>
<line x1="537.50" y1="631.76" x2="541.20" y2="631.76" stroke="#000" stroke-width="1.1"/>
<line x1="905.50" y1="631.76" x2="901.80" y2="631.76" stroke="#000" stroke-width="1.1"/>
<line x1="537.50" y1="641.30" x2="544.80" y2="641.30" stroke="#000" stroke-width="1.5"/>
<line x1="905.50" y1="641.30" x2="898.20" y2="641.30" stroke="#000" stroke-width="1.5"/>
<line x1="537.50" y1="650.84" x2="541.20" y2="650.84" stroke="#000" stroke-width="1.1"/>
<line x1="905.50" y1="650.84" x2="901.80" y2="650.84" stroke="#000" stroke-width="1.1"/>
<line x1="537.50" y1="660.38" x2="541.20" y2="660.38" stroke="#000" stroke-width="1.1"/>
<line x1="905.50" y1="660.38" x2="901.80" y2="660.38" stroke="#000" stroke-width="1.1"/>
<line x1="537.50" y1="669.92" x2="541.20" y2="669.92" stroke="#000" stroke-width="1.1"/>
<line x1="905.50" y1="669.92" x2="901.80" y2="669.92" stroke="#000" stroke-width="1.1"/>
<line x1="537.50" y1="679.46" x2="541.20" y2="679.46" stroke="#000" stroke-width="1.1"/>
<line x1="905.50" y1="679.46" x2="901.80" y2="679.46" stroke="#000" stroke-width="1.1"/>
<line x1="537.50" y1="689.00" x2="544.80" y2="689.00" stroke="#000" stroke-width="1.5"/>
<line x1="905.50" y1="689.00" x2="898.20" y2="689.00" stroke="#000" stroke-width="1.5"/>
<line x1="549.77" y1="695.00" x2="549.77" y2="692.50" stroke="#000" stroke-width="1.3"/>
<line x1="549.77" y1="444.50" x2="549.77" y2="447.00" stroke="#000" stroke-width="1.3"/>
<line x1="562.03" y1="695.00" x2="562.03" y2="692.50" stroke="#000" stroke-width="1.3"/>
<line x1="562.03" y1="444.50" x2="562.03" y2="447.00" stroke="#000" stroke-width="1.3"/>
<line x1="574.30" y1="695.00" x2="574.30" y2="692.50" stroke="#000" stroke-width="1.3"/>
<line x1="574.30" y1="444.50" x2="574.30" y2="447.00" stroke="#000" stroke-width="1.3"/>
<line x1="586.57" y1="695.00" x2="586.57" y2="692.50" stroke="#000" stroke-width="1.3"/>
<line x1="586.57" y1="444.50" x2="586.57" y2="447.00" stroke="#000" stroke-width="1.3"/>
<line x1="598.83" y1="695.00" x2="598.83" y2="690.00" stroke="#000" stroke-width="1.3"/>
<line x1="598.83" y1="444.50" x2="598.83" y2="449.50" stroke="#000" stroke-width="1.3"/>
<line x1="611.10" y1="695.00" x2="611.10" y2="692.50" stroke="#000" stroke-width="1.3"/>
<line x1="611.10" y1="444.50" x2="611.10" y2="447.00" stroke="#000" stroke-width="1.3"/>
<line x1="623.37" y1="695.00" x2="623.37" y2="692.50" stroke="#000" stroke-width="1.3"/>
<line x1="623.37" y1="444.50" x2="623.37" y2="447.00" stroke="#000" stroke-width="1.3"/>
<line x1="635.63" y1="695.00" x2="635.63" y2="692.50" stroke="#000" stroke-width="1.3"/>
<line x1="635.63" y1="444.50" x2="635.63" y2="447.00" stroke="#000" stroke-width="1.3"/>
<line x1="647.90" y1="695.00" x2="647.90" y2="692.50" stroke="#000" stroke-width="1.3"/>
<line x1="647.90" y1="444.50" x2="647.90" y2="447.00" stroke="#000" stroke-width="1.3"/>
<line x1="660.17" y1="695.00" x2="660.17" y2="690.00" stroke="#000" stroke-width="1.3"/>
<line x1="660.17" y1="444.50" x2="660.17" y2="449.50" stroke="#000" stroke-width="1.3"/>
<line x1="672.43" y1="695.00" x2="672.43" y2="692.50" stroke="#000" stroke-width="1.3"/>
<line x1="672.43" y1="444.50" x2="672.43" y2="447.00" stroke="#000" stroke-width="1.3"/>
<line x1="684.70" y1="695.00" x2="684.70" y2="692.50" stroke="#000" stroke-width="1.3"/>
<line x1="684.70" y1="444.50" x2="684.70" y2="447.00" stroke="#000" stroke-width="1.3"/>
<line x1="696.97" y1="695.00" x2="696.97" y2="692.50" stroke="#000" stroke-width="1.3"/>
<line x1="696.97" y1="444.50" x2="696.97" y2="447.00" stroke="#000" stroke-width="1.3"/>
<line x1="709.23" y1="695.00" x2="709.23" y2="692.50" stroke="#000" stroke-width="1.3"/>
<line x1="709.23" y1="444.50" x2="709.23" y2="447.00" stroke="#000" stroke-width="1.3"/>
<line x1="721.50" y1="695.00" x2="721.50" y2="690.00" stroke="#000" stroke-width="1.3"/>
<line x1="721.50" y1="444.50" x2="721.50" y2="449.50" stroke="#000" stroke-width="1.3"/>
<line x1="733.77" y1="695.00" x2="733.77" y2="692.50" stroke="#000" stroke-width="1.3"/>
<line x1="733.77" y1="444.50" x2="733.77" y2="447.00" stroke="#000" stroke-width="1.3"/>
<line x1="746.03" y1="695.00" x2="746.03" y2="692.50" stroke="#000" stroke-width="1.3"/>
<line x1="746.03" y1="444.50" x2="746.03" y2="447.00" stroke="#000" stroke-width="1.3"/>
<line x1="758.30" y1="695.00" x2="758.30" y2="692.50" stroke="#000" stroke-width="1.3"/>
<line x1="758.30" y1="444.50" x2="758.30" y2="447.00" stroke="#000" stroke-width="1.3"/>
<line x1="770.57" y1="695.00" x2="770.57" y2="692.50" stroke="#000" stroke-width="1.3"/>
<line x1="770.57" y1="444.50" x2="770.57" y2="447.00" stroke="#000" stroke-width="1.3"/>
<line x1="782.83" y1="695.00" x2="782.83" y2="690.00" stroke="#000" stroke-width="1.3"/>
<line x1="782.83" y1="444.50" x2="782.83" y2="449.50" stroke="#000" stroke-width="1.3"/>
<line x1="795.10" y1="695.00" x2="795.10" y2="692.50" stroke="#000" stroke-width="1.3"/>
<line x1="795.10" y1="444.50" x2="795.10" y2="447.00" stroke="#000" stroke-width="1.3"/>
<line x1="807.37" y1="695.00" x2="807.37" y2="692.50" stroke="#000" stroke-width="1.3"/>
<line x1="807.37" y1="444.50" x2="807.37" y2="447.00" stroke="#000" stroke-width="1.3"/>
<line x1="819.63" y1="695.00" x2="819.63" y2="692.50" stroke="#000" stroke-width="1.3"/>
<line x1="819.63" y1="444.50" x2="819.63" y2="447.00" stroke="#000" stroke-width="1.3"/>
<line x1="831.90" y1="695.00" x2="831.90" y2="692.50" stroke="#000" stroke-width="1.3"/>
<line x1="831.90" y1="444.50" x2="831.90" y2="447.00" stroke="#000" stroke-width="1.3"/>
<line x1="844.17" y1="695.00" x2="844.17" y2="690.00" stroke="#000" stroke-width="1.3"/>
<line x1="844.17" y1="444.50" x2="844.17" y2="449.50" stroke="#000" stroke-width="1.3"/>
<line x1="856.43" y1="695.00" x2="856.43" y2="692.50" stroke="#000" stroke-width="1.3"/>
<line x1="856.43" y1="444.50" x2="856.43" y2="447.00" stroke="#000" stroke-width="1.3"/>
<line x1="868.70" y1="695.00" x2="868.70" y2="692.50" stroke="#000" stroke-width="1.3"/>
<line x1="868.70" y1="444.50" x2="868.70" y2="447.00" stroke="#000" stroke-width="1.3"/>
<line x1="880.97" y1="695.00" x2="880.97" y2="692.50" stroke="#000" stroke-width="1.3"/>
<line x1="880.97" y1="444.50" x2="880.97" y2="447.00" stroke="#000" stroke-width="1.3"/>
<line x1="893.23" y1="695.00" x2="893.23" y2="692.50" stroke="#000" stroke-width="1.3"/>
<line x1="893.23" y1="444.50" x2="893.23" y2="447.00" stroke="#000" stroke-width="1.3"/>
<text font-size="100" stroke="#000" stroke-width="4.00" stroke-linejoin="round" fill="#000" transform="matrix(0.17231 0 0 0.15335 498.01 456.88)">13.0</text>
<text font-size="100" stroke="#000" stroke-width="4.00" stroke-linejoin="round" fill="#000" transform="matrix(0.17258 0 0 0.15335 498.01 504.57)">13.5</text>
<text font-size="100" stroke="#000" stroke-width="4.00" stroke-linejoin="round" fill="#000" transform="matrix(0.17231 0 0 0.15335 498.01 552.27)">14.0</text>
<text font-size="100" stroke="#000" stroke-width="4.00" stroke-linejoin="round" fill="#000" transform="matrix(0.17258 0 0 0.15335 498.01 599.98)">14.5</text>
<text font-size="100" stroke="#000" stroke-width="4.00" stroke-linejoin="round" fill="#000" transform="matrix(0.17231 0 0 0.15335 498.01 647.67)">15.0</text>
<text font-size="100" stroke="#000" stroke-width="4.00" stroke-linejoin="round" fill="#000" transform="matrix(0.17258 0 0 0.15335 498.01 695.38)">15.5</text>
<text font-size="100" stroke="#000" stroke-width="3.84" stroke-linejoin="round" fill="#000" transform="matrix(0.18510 0 0 0.15480 518.56 717.88)">−0.5</text>
<text font-size="100" stroke="#000" stroke-width="3.85" stroke-linejoin="round" fill="#000" transform="matrix(0.18407 0 0 0.15480 616.71 717.88)">0.0</text>
<text font-size="100" stroke="#000" stroke-width="3.85" stroke-linejoin="round" fill="#000" transform="matrix(0.18448 0 0 0.15480 708.70 717.88)">0.5</text>
<text font-size="100" stroke="#000" stroke-width="4.03" stroke-linejoin="round" fill="#000" transform="matrix(0.16825 0 0 0.15480 801.49 717.88)">1.0</text>
<text font-size="100" stroke="#000" stroke-width="4.02" stroke-linejoin="round" fill="#000" transform="matrix(0.16864 0 0 0.15480 893.49 717.88)">1.5</text>
<text font-size="100" stroke="#000" stroke-width="3.69" stroke-linejoin="round" fill="#000" transform="matrix(0.16611 0 0 0.18644 698.35 737.67)">phase</text>
<g transform="translate(483.10 603.20) rotate(-90)"><text font-size="100" stroke="#000" stroke-width="3.69" stroke-linejoin="round" fill="#000" transform="matrix(0.18640 0 0 0.16643 0.24 -0.33)">V (mag)</text></g>
<text font-size="100" fill="#000" transform="matrix(0.20292 0 0 0.21221 603.44 435.70)">P</text>
<text font-size="100" font-weight="bold" fill="#000" transform="matrix(0.13818 0 0 0.17792 616.05 440.50)">vsx</text>
<text font-size="100" fill="#000" transform="matrix(0.27169 0 0 0.20495 649.47 435.60)">=</text>
<text font-size="100" fill="#000" transform="matrix(0.22571 0 0 0.19913 676.34 435.60)">353.96527</text>
<text font-size="100" fill="#000" transform="matrix(0.21188 0 0 0.18896 793.31 435.60)">days</text>
<rect x="562.00" y="167.00" width="3.00" height="11.00" fill="#4a0a70"/>
<rect x="581.50" y="265.90" width="3.00" height="2.00" fill="#2020a0"/>
<rect x="581.50" y="271.90" width="3.00" height="2.00" fill="#2020a0"/>
<rect x="581.50" y="276.70" width="3.00" height="2.00" fill="#2020a0"/>
<rect x="581.50" y="281.50" width="3.00" height="2.00" fill="#2020a0"/>
<rect x="581.50" y="288.60" width="3.00" height="7.20" fill="#2020a0"/>
<rect x="581.50" y="309.20" width="3.00" height="2.00" fill="#2020a0"/>
<rect x="766.00" y="261.80" width="3.00" height="39.40" fill="#3cdc88"/>
<rect x="766.00" y="248.70" width="3.00" height="2.00" fill="#3cdc88"/>
<rect x="766.00" y="254.70" width="3.00" height="2.00" fill="#3cdc88"/>
<rect x="766.00" y="258.70" width="3.00" height="2.00" fill="#3cdc88"/>
<rect x="763.70" y="273.80" width="2.70" height="25.40" fill="#40c8dc"/>
<rect x="764.00" y="315.00" width="3.00" height="2.00" fill="#40c8dc"/>
<rect x="764.00" y="321.60" width="3.00" height="2.00" fill="#40c8dc"/>
<rect x="762.50" y="284.20" width="3.00" height="2.00" fill="#1a4aa0"/>
<rect x="762.50" y="295.50" width="3.00" height="2.00" fill="#1a4aa0"/>
<rect x="762.50" y="304.90" width="3.00" height="2.00" fill="#1a4aa0"/>
<rect x="783.00" y="150.70" width="3.00" height="11.40" fill="#40d040"/>
<rect x="788.00" y="191.50" width="3.00" height="28.80" fill="#a8e040"/>
<rect x="788.00" y="177.80" width="3.00" height="2.00" fill="#a8e040"/>
<rect x="788.00" y="181.80" width="3.00" height="2.00" fill="#a8e040"/>
<rect x="788.00" y="185.80" width="3.00" height="2.00" fill="#a8e040"/>
<rect x="788.00" y="222.00" width="3.00" height="2.00" fill="#a8e040"/>
<rect x="810.00" y="265.00" width="3.00" height="22.00" fill="#e8b830"/>
<rect x="810.00" y="290.00" width="3.00" height="4.00" fill="#e8b830"/>
<rect x="850.50" y="274.00" width="3.50" height="13.30" fill="#d02020"/>
<rect x="850.00" y="297.00" width="3.00" height="5.60" fill="#d05020"/>
<path d="M545.0 526.0 L546.5 523.0 L549.5 528.0 L550.0 546.0 L549.0 554.0 L546.0 553.0 L545.0 547.0 Z" fill="#a8e040"/>
<rect x="546.50" y="510.40" width="2.50" height="2.00" fill="#a8e040"/>
<rect x="546.50" y="514.20" width="2.50" height="2.00" fill="#a8e040"/>
<rect x="546.50" y="519.50" width="2.50" height="2.00" fill="#a8e040"/>
<rect x="546.50" y="554.80" width="2.50" height="2.00" fill="#a8e040"/>
<path d="M729.0 526.0 L730.5 523.0 L733.5 528.0 L734.0 546.0 L733.0 554.0 L730.0 553.0 L729.0 547.0 Z" fill="#a8e040"/>
<rect x="730.50" y="510.40" width="2.50" height="2.00" fill="#a8e040"/>
<rect x="730.50" y="514.20" width="2.50" height="2.00" fill="#a8e040"/>
<rect x="730.50" y="519.50" width="2.50" height="2.00" fill="#a8e040"/>
<rect x="730.50" y="554.80" width="2.50" height="2.00" fill="#a8e040"/>
<rect x="695.00" y="500.00" width="2.70" height="10.20" fill="#4a0a70"/>
<rect x="879.00" y="500.00" width="2.70" height="10.20" fill="#4a0a70"/>
<rect x="709.00" y="484.00" width="2.80" height="10.00" fill="#40d040"/>
<rect x="894.00" y="484.00" width="2.50" height="10.50" fill="#40d040"/>
<rect x="590.80" y="599.25" width="2.20" height="1.70" fill="#2020a0"/>
<rect x="590.80" y="605.25" width="2.20" height="1.70" fill="#2020a0"/>
<rect x="590.80" y="609.25" width="2.20" height="1.70" fill="#2020a0"/>
<rect x="590.80" y="614.65" width="2.20" height="1.70" fill="#2020a0"/>
<rect x="590.80" y="617.95" width="2.20" height="1.70" fill="#2020a0"/>
<rect x="590.50" y="622.80" width="2.50" height="6.70" fill="#2020a0"/>
<rect x="590.50" y="643.00" width="2.50" height="2.00" fill="#101050"/>
<rect x="628.60" y="606.80" width="2.40" height="13.70" fill="#803030"/>
<rect x="624.70" y="617.00" width="2.30" height="2.00" fill="#d05020"/>
<rect x="621.00" y="617.00" width="2.00" height="2.00" fill="#1a4aa0"/>
<rect x="627.00" y="622.70" width="4.00" height="8.00" fill="#40c8dc"/>
<rect x="628.20" y="635.90" width="2.20" height="2.00" fill="#40c8dc"/>
<rect x="628.20" y="648.40" width="2.20" height="2.00" fill="#40c8dc"/>
<rect x="628.20" y="654.70" width="2.20" height="2.00" fill="#40c8dc"/>
<rect x="621.00" y="628.50" width="2.20" height="2.00" fill="#2050b0"/>
<rect x="621.00" y="637.00" width="2.20" height="2.00" fill="#2050b0"/>
<rect x="624.00" y="631.80" width="2.50" height="3.40" fill="#c04020"/>
<rect x="637.90" y="594.90" width="4.20" height="39.80" fill="#3cd070"/>
<rect x="638.40" y="581.40" width="2.20" height="2.00" fill="#3cc898"/>
<rect x="638.40" y="588.20" width="2.20" height="2.00" fill="#3cc898"/>
<rect x="638.40" y="591.60" width="2.20" height="2.00" fill="#3cc898"/>
<rect x="640.30" y="597.70" width="1.80" height="27.30" fill="#b8d040"/>
<rect x="774.80" y="599.25" width="2.20" height="1.70" fill="#2020a0"/>
<rect x="774.80" y="605.25" width="2.20" height="1.70" fill="#2020a0"/>
<rect x="774.80" y="609.25" width="2.20" height="1.70" fill="#2020a0"/>
<rect x="774.80" y="614.65" width="2.20" height="1.70" fill="#2020a0"/>
<rect x="774.80" y="617.95" width="2.20" height="1.70" fill="#2020a0"/>
<rect x="774.50" y="622.80" width="2.50" height="6.70" fill="#2020a0"/>
<rect x="774.50" y="643.00" width="2.50" height="2.00" fill="#101050"/>
<rect x="812.60" y="606.80" width="2.40" height="13.70" fill="#803030"/>
<rect x="808.70" y="617.00" width="2.30" height="2.00" fill="#d05020"/>
<rect x="805.00" y="617.00" width="2.00" height="2.00" fill="#1a4aa0"/>
<rect x="811.00" y="622.70" width="4.00" height="8.00" fill="#40c8dc"/>
<rect x="812.20" y="635.90" width="2.20" height="2.00" fill="#40c8dc"/>
<rect x="812.20" y="648.40" width="2.20" height="2.00" fill="#40c8dc"/>
<rect x="812.20" y="654.70" width="2.20" height="2.00" fill="#40c8dc"/>
<rect x="805.00" y="628.50" width="2.20" height="2.00" fill="#2050b0"/>
<rect x="805.00" y="637.00" width="2.20" height="2.00" fill="#2050b0"/>
<rect x="808.00" y="631.80" width="2.50" height="3.40" fill="#c04020"/>
<rect x="821.90" y="594.90" width="4.20" height="39.80" fill="#3cd070"/>
<rect x="822.40" y="581.40" width="2.20" height="2.00" fill="#3cc898"/>
<rect x="822.40" y="588.20" width="2.20" height="2.00" fill="#3cc898"/>
<rect x="822.40" y="591.60" width="2.20" height="2.00" fill="#3cc898"/>
<rect x="824.30" y="597.70" width="1.80" height="27.30" fill="#b8d040"/>
<rect x="84.3" y="440.9" width="377.8" height="253.9" fill="none" stroke="#000" stroke-width="2"/>
<line x1="84.30" y1="661.13" x2="91.90" y2="661.13" stroke="#000" stroke-width="1.8"/>
<line x1="462.10" y1="661.13" x2="454.50" y2="661.13" stroke="#000" stroke-width="1.8"/>
<line x1="84.30" y1="627.46" x2="91.90" y2="627.46" stroke="#000" stroke-width="1.8"/>
<line x1="462.10" y1="627.46" x2="454.50" y2="627.46" stroke="#000" stroke-width="1.8"/>
<line x1="84.30" y1="593.78" x2="91.90" y2="593.78" stroke="#000" stroke-width="1.8"/>
<line x1="462.10" y1="593.78" x2="454.50" y2="593.78" stroke="#000" stroke-width="1.8"/>
<line x1="84.30" y1="560.11" x2="91.90" y2="560.11" stroke="#000" stroke-width="1.8"/>
<line x1="462.10" y1="560.11" x2="454.50" y2="560.11" stroke="#000" stroke-width="1.8"/>
<line x1="84.30" y1="526.44" x2="91.90" y2="526.44" stroke="#000" stroke-width="1.8"/>
<line x1="462.10" y1="526.44" x2="454.50" y2="526.44" stroke="#000" stroke-width="1.8"/>
<line x1="84.30" y1="492.77" x2="91.90" y2="492.77" stroke="#000" stroke-width="1.8"/>
<line x1="462.10" y1="492.77" x2="454.50" y2="492.77" stroke="#000" stroke-width="1.8"/>
<line x1="84.30" y1="459.10" x2="91.90" y2="459.10" stroke="#000" stroke-width="1.8"/>
<line x1="462.10" y1="459.10" x2="454.50" y2="459.10" stroke="#000" stroke-width="1.8"/>
<line x1="91.34" y1="694.80" x2="91.34" y2="697.60" stroke="#000" stroke-width="1.8"/>
<line x1="106.86" y1="694.80" x2="106.86" y2="697.60" stroke="#000" stroke-width="1.8"/>
<line x1="122.38" y1="694.80" x2="122.38" y2="697.60" stroke="#000" stroke-width="1.8"/>
<line x1="137.90" y1="694.80" x2="137.90" y2="701.40" stroke="#000" stroke-width="1.8"/>
<line x1="137.90" y1="440.90" x2="137.90" y2="445.90" stroke="#000" stroke-width="1.8"/>
<line x1="153.42" y1="694.80" x2="153.42" y2="697.60" stroke="#000" stroke-width="1.8"/>
<line x1="168.94" y1="694.80" x2="168.94" y2="697.60" stroke="#000" stroke-width="1.8"/>
<line x1="184.46" y1="694.80" x2="184.46" y2="697.60" stroke="#000" stroke-width="1.8"/>
<line x1="199.98" y1="694.80" x2="199.98" y2="697.60" stroke="#000" stroke-width="1.8"/>
<line x1="215.50" y1="694.80" x2="215.50" y2="701.40" stroke="#000" stroke-width="1.8"/>
<line x1="215.50" y1="440.90" x2="215.50" y2="445.90" stroke="#000" stroke-width="1.8"/>
<line x1="231.02" y1="694.80" x2="231.02" y2="697.60" stroke="#000" stroke-width="1.8"/>
<line x1="246.54" y1="694.80" x2="246.54" y2="697.60" stroke="#000" stroke-width="1.8"/>
<line x1="262.06" y1="694.80" x2="262.06" y2="697.60" stroke="#000" stroke-width="1.8"/>
<line x1="277.58" y1="694.80" x2="277.58" y2="697.60" stroke="#000" stroke-width="1.8"/>
<line x1="293.10" y1="694.80" x2="293.10" y2="701.40" stroke="#000" stroke-width="1.8"/>
<line x1="293.10" y1="440.90" x2="293.10" y2="445.90" stroke="#000" stroke-width="1.8"/>
<line x1="308.62" y1="694.80" x2="308.62" y2="697.60" stroke="#000" stroke-width="1.8"/>
<line x1="324.14" y1="694.80" x2="324.14" y2="697.60" stroke="#000" stroke-width="1.8"/>
<line x1="339.66" y1="694.80" x2="339.66" y2="697.60" stroke="#000" stroke-width="1.8"/>
<line x1="355.18" y1="694.80" x2="355.18" y2="697.60" stroke="#000" stroke-width="1.8"/>
<line x1="370.70" y1="694.80" x2="370.70" y2="701.40" stroke="#000" stroke-width="1.8"/>
<line x1="370.70" y1="440.90" x2="370.70" y2="445.90" stroke="#000" stroke-width="1.8"/>
<line x1="386.22" y1="694.80" x2="386.22" y2="697.60" stroke="#000" stroke-width="1.8"/>
<line x1="401.74" y1="694.80" x2="401.74" y2="697.60" stroke="#000" stroke-width="1.8"/>
<line x1="417.26" y1="694.80" x2="417.26" y2="697.60" stroke="#000" stroke-width="1.8"/>
<line x1="432.78" y1="694.80" x2="432.78" y2="697.60" stroke="#000" stroke-width="1.8"/>
<line x1="448.30" y1="694.80" x2="448.30" y2="701.40" stroke="#000" stroke-width="1.8"/>
<line x1="448.30" y1="440.90" x2="448.30" y2="445.90" stroke="#000" stroke-width="1.8"/>
<path d="M116.9 694.8 V676.3 H150.1 V694.8 M150.1 694.8 V672.9 H183.3 V694.8 M183.3 694.8 V452.4 H216.6 V694.8 M216.6 694.8 V666.2 H249.8 V694.8 M249.8 694.8 V693.1 H283.0 V694.8 M283.0 694.8 V595.5 H316.2 V694.8 M316.2 694.8 V497.8 H349.4 V694.8 M349.4 694.8 V662.8 H382.7 V694.8 M382.7 694.8 V689.7 H415.9 V694.8" fill="none" stroke="#bb1414" stroke-width="2"/>
<text font-size="100" stroke="#000" stroke-width="3.97" stroke-linejoin="round" fill="#000" transform="matrix(0.17468 0 0 0.15335 68.74 694.67)">0</text>
<text font-size="100" stroke="#000" stroke-width="3.88" stroke-linejoin="round" fill="#000" transform="matrix(0.18329 0 0 0.15335 58.00 667.60)">20</text>
<text font-size="100" stroke="#000" stroke-width="3.93" stroke-linejoin="round" fill="#000" transform="matrix(0.17852 0 0 0.15335 58.52 633.93)">40</text>
<text font-size="100" stroke="#000" stroke-width="3.88" stroke-linejoin="round" fill="#000" transform="matrix(0.18338 0 0 0.15335 57.99 600.26)">60</text>
<text font-size="100" stroke="#000" stroke-width="3.89" stroke-linejoin="round" fill="#000" transform="matrix(0.18208 0 0 0.15335 58.13 566.59)">80</text>
<text font-size="100" stroke="#000" stroke-width="3.96" stroke-linejoin="round" fill="#000" transform="matrix(0.17544 0 0 0.15335 49.09 532.91)">100</text>
<text font-size="100" stroke="#000" stroke-width="3.96" stroke-linejoin="round" fill="#000" transform="matrix(0.17544 0 0 0.15335 49.09 499.24)">120</text>
<text font-size="100" stroke="#000" stroke-width="3.96" stroke-linejoin="round" fill="#000" transform="matrix(0.17544 0 0 0.15335 49.09 465.57)">140</text>
<text font-size="100" stroke="#000" stroke-width="4.13" stroke-linejoin="round" fill="#000" transform="matrix(0.17477 0 0 0.14172 120.59 723.97)">13.5</text>
<text font-size="100" stroke="#000" stroke-width="4.18" stroke-linejoin="round" fill="#000" transform="matrix(0.17067 0 0 0.14172 198.57 723.97)">14.0</text>
<text font-size="100" stroke="#000" stroke-width="4.15" stroke-linejoin="round" fill="#000" transform="matrix(0.17313 0 0 0.14172 275.96 723.97)">14.5</text>
<text font-size="100" stroke="#000" stroke-width="4.12" stroke-linejoin="round" fill="#000" transform="matrix(0.17558 0 0 0.14172 353.29 723.97)">15.0</text>
<text font-size="100" stroke="#000" stroke-width="4.08" stroke-linejoin="round" fill="#000" transform="matrix(0.17915 0 0 0.14172 430.56 723.97)">15.5</text>
<text font-size="100" stroke="#000" stroke-width="3.99" stroke-linejoin="round" fill="#000" transform="matrix(0.18526 0 0 0.14317 239.34 743.27)">V (mag)</text>
<g transform="translate(34.70 572.80) rotate(-90)"><text font-size="100" stroke="#000" stroke-width="4.33" stroke-linejoin="round" fill="#000" transform="matrix(0.14411 0 0 0.15625 -0.86 -0.33)">N</text></g>
</svg></body></html>
